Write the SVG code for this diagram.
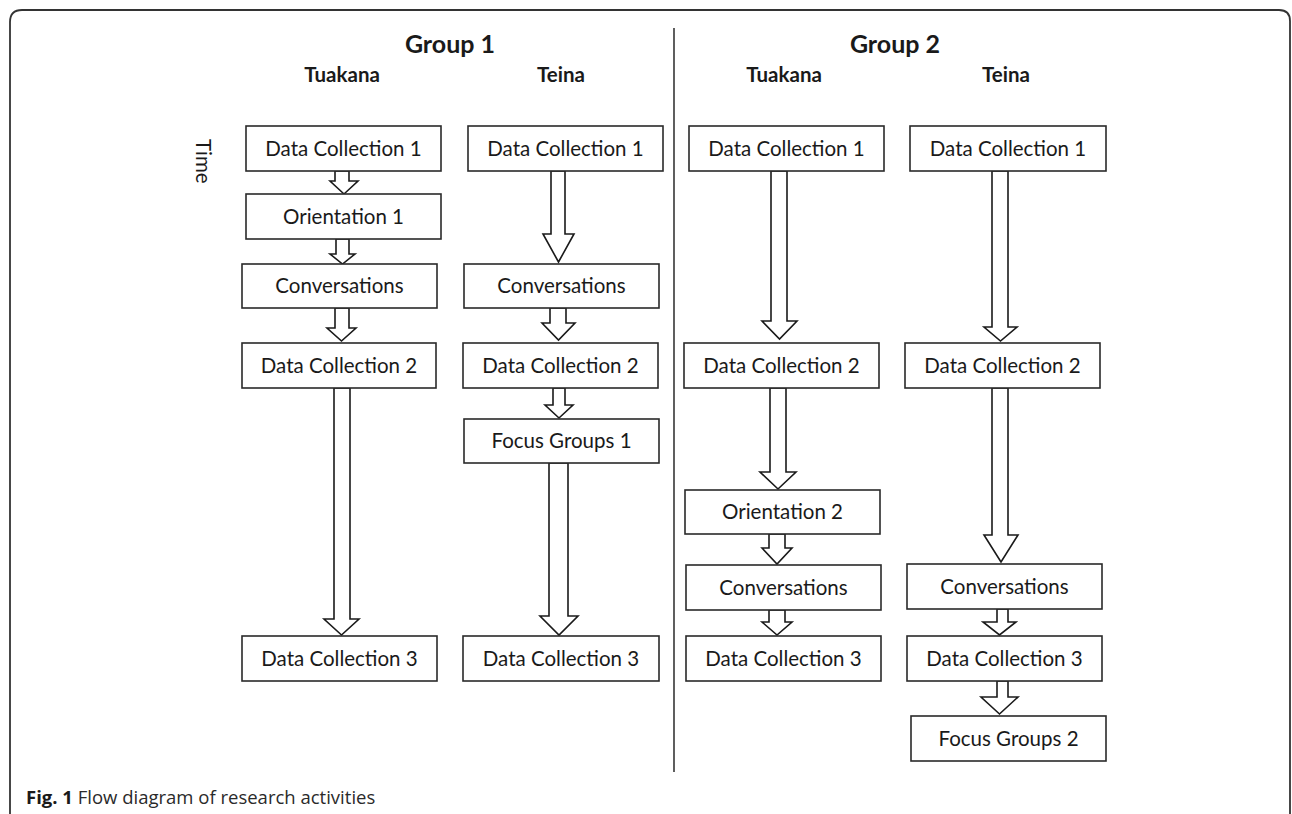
<svg xmlns="http://www.w3.org/2000/svg" width="1292" height="814" viewBox="0 0 1292 814">
<style>
.box{fill:#fff;stroke:#2a2a2a;stroke-width:1.6}
.lbl{font-family:Lato,"Liberation Sans",sans-serif;font-size:20.5px;fill:#1a1a1a;text-anchor:middle}
.hd{font-family:Lato,"Liberation Sans",sans-serif;font-weight:bold;fill:#1a1a1a;text-anchor:middle}
.arr{fill:#fff;stroke:#1a1a1a;stroke-width:1.6;stroke-linejoin:miter}
.frame{fill:none;stroke:#333;stroke-width:1.8}
</style>
<rect x="0" y="0" width="1292" height="814" fill="#fff"/>
<path class="frame" d="M10,814 V22 Q10,10 22,10 H1279 Q1290,10 1290,21 V814"/>
<line x1="674" y1="28" x2="674" y2="772" stroke="#1a1a1a" stroke-width="1.4"/>
<g id="headers">
<text class="hd" x="450" y="53" font-size="25">Group 1</text>
<text class="hd" x="895" y="53" font-size="25">Group 2</text>
<text class="hd" x="342" y="82" font-size="20.5">Tuakana</text>
<text class="hd" x="561" y="82" font-size="20.5">Teina</text>
<text class="hd" x="784" y="82" font-size="20.5">Tuakana</text>
<text class="hd" x="1006" y="82" font-size="20.5">Teina</text>
<text class="lbl" x="0" y="0" transform="translate(196,139) rotate(90)" style="text-anchor:start">Time</text>
</g>
<g id="connectors">
<polygon class="arr" points="335,171 349,171 349,181 358,181 344,194 330,181 335,181"/>
<polygon class="arr" points="336,239 349,239 349,254 355,254 342.5,264 330,254 336,254"/>
<polygon class="arr" points="335,308 349,308 349,328 356,328 341.5,341 327,328 335,328"/>
<polygon class="arr" points="334,388 350,388 350,619 359,619 341.5,635 324,619 334,619"/>
<polygon class="arr" points="551,171 565,171 565,234 574,234 558.5,262 543,234 551,234"/>
<polygon class="arr" points="550,308 566,308 566,323 575,323 558.5,340 542,323 550,323"/>
<polygon class="arr" points="553,388 565,388 565,405 573,405 559,418 545,405 553,405"/>
<polygon class="arr" points="549,463 568,463 568,616 578,616 559,635 540,616 549,616"/>
<polygon class="arr" points="771,171 787,171 787,321 797,321 779.5,339 762,321 771,321"/>
<polygon class="arr" points="770,388 786,388 786,472 796,472 778,489 760,472 770,472"/>
<polygon class="arr" points="769,534 785,534 785,548 792,548 777,564 762,548 769,548"/>
<polygon class="arr" points="769,610 785,610 785,622 792,622 777,635 762,622 769,622"/>
<polygon class="arr" points="992,171 1008,171 1008,327 1017,327 1000.5,341 984,327 992,327"/>
<polygon class="arr" points="992,388 1008,388 1008,535 1018,535 1001,562 984,535 992,535"/>
<polygon class="arr" points="997,609 1008,609 1008,622 1016,622 999.5,635 983,622 997,622"/>
<polygon class="arr" points="997,681 1008,681 1008,697 1018,697 999.5,714 981,697 997,697"/>
</g>
<g id="g1-tuakana-dc1"><rect class="box" x="246" y="126" width="195" height="45"/><text class="lbl" x="343.5" y="155.5">Data Collection 1</text></g>
<g id="g1-tuakana-or1"><rect class="box" x="246" y="194" width="195" height="45"/><text class="lbl" x="343.5" y="223.5">Orientation 1</text></g>
<g id="g1-tuakana-conv"><rect class="box" x="242" y="264" width="195" height="44"/><text class="lbl" x="339.5" y="293">Conversations</text></g>
<g id="g1-tuakana-dc2"><rect class="box" x="242" y="343" width="194" height="45"/><text class="lbl" x="339" y="372.5">Data Collection 2</text></g>
<g id="g1-tuakana-dc3"><rect class="box" x="242" y="636" width="195" height="45"/><text class="lbl" x="339.5" y="665.5">Data Collection 3</text></g>
<g id="g1-teina-dc1"><rect class="box" x="468" y="126" width="195" height="45"/><text class="lbl" x="565.5" y="155.5">Data Collection 1</text></g>
<g id="g1-teina-conv"><rect class="box" x="464" y="264" width="195" height="44"/><text class="lbl" x="561.5" y="293">Conversations</text></g>
<g id="g1-teina-dc2"><rect class="box" x="463" y="343" width="195" height="45"/><text class="lbl" x="560.5" y="372.5">Data Collection 2</text></g>
<g id="g1-teina-fg1"><rect class="box" x="464" y="419" width="195" height="44"/><text class="lbl" x="561.5" y="448">Focus Groups 1</text></g>
<g id="g1-teina-dc3"><rect class="box" x="463" y="636" width="196" height="45"/><text class="lbl" x="561" y="665.5">Data Collection 3</text></g>
<g id="g2-tuakana-dc1"><rect class="box" x="689" y="126" width="195" height="45"/><text class="lbl" x="786.5" y="155.5">Data Collection 1</text></g>
<g id="g2-tuakana-dc2"><rect class="box" x="684" y="343" width="195" height="45"/><text class="lbl" x="781.5" y="372.5">Data Collection 2</text></g>
<g id="g2-tuakana-or2"><rect class="box" x="685" y="490" width="195" height="44"/><text class="lbl" x="782.5" y="519">Orientation 2</text></g>
<g id="g2-tuakana-conv"><rect class="box" x="686" y="565" width="195" height="45"/><text class="lbl" x="783.5" y="594.5">Conversations</text></g>
<g id="g2-tuakana-dc3"><rect class="box" x="686" y="636" width="195" height="45"/><text class="lbl" x="783.5" y="665.5">Data Collection 3</text></g>
<g id="g2-teina-dc1"><rect class="box" x="910" y="126" width="196" height="45"/><text class="lbl" x="1008" y="155.5">Data Collection 1</text></g>
<g id="g2-teina-dc2"><rect class="box" x="905" y="343" width="195" height="45"/><text class="lbl" x="1002.5" y="372.5">Data Collection 2</text></g>
<g id="g2-teina-conv"><rect class="box" x="907" y="564" width="195" height="45"/><text class="lbl" x="1004.5" y="593.5">Conversations</text></g>
<g id="g2-teina-dc3"><rect class="box" x="907" y="636" width="195" height="45"/><text class="lbl" x="1004.5" y="665.5">Data Collection 3</text></g>
<g id="g2-teina-fg2"><rect class="box" x="911" y="716" width="195" height="45"/><text class="lbl" x="1008.5" y="745.5">Focus Groups 2</text></g>
<g id="caption"><text x="26" y="804" font-family="'Open Sans','Liberation Sans',sans-serif" font-size="18.5" fill="#2a2a2a"><tspan font-weight="bold" fill="#1a1a1a">Fig. 1</tspan> Flow diagram of research activities</text></g>
</svg>
